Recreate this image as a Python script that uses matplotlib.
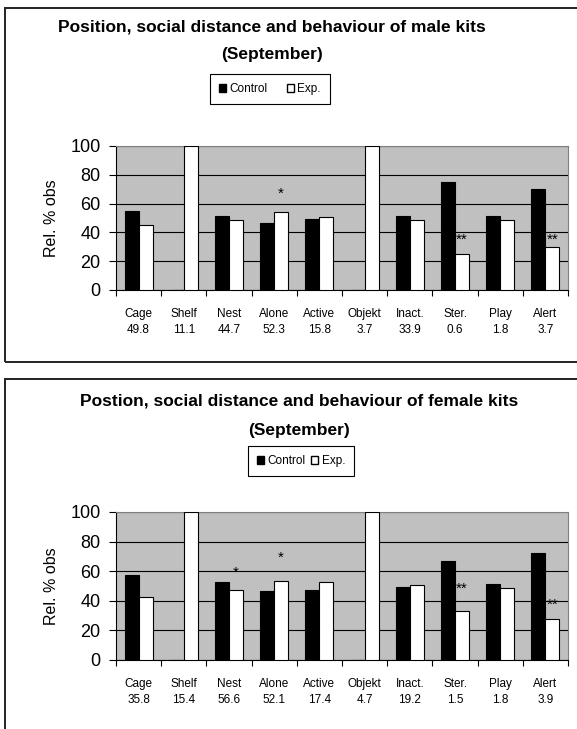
import matplotlib.pyplot as plt
from matplotlib.patches import Rectangle, Patch
import matplotlib.font_manager as fm
import numpy as np

W, H = 577, 729

categories = ['Cage', 'Shelf', 'Nest', 'Alone', 'Active', 'Objekt', 'Inact.', 'Ster.', 'Play', 'Alert']

# male kits
male_n = ['49.8', '11.1', '44.7', '52.3', '15.8', '3.7', '33.9', '0.6', '1.8', '3.7']
male_control = [55, 0, 51.5, 46.5, 49, 0, 51.5, 75, 51.5, 70]
male_exp = [45, 100, 48.5, 54, 51, 100, 48.5, 25, 48.5, 30]
male_marks = [(3, '*', 67), (7, '**', 35), (9, '**', 35)]

# female kits
female_n = ['35.8', '15.4', '56.6', '52.1', '17.4', '4.7', '19.2', '1.5', '1.8', '3.9']
female_control = [57.5, 0, 53, 46.5, 47.5, 0, 49, 67, 51.5, 72.5]
female_exp = [42.5, 100, 47.5, 53.5, 52.5, 100, 51, 33, 48.5, 28]
female_marks = [(2, '*', 59), (3, '*', 69), (7, '**', 48), (9, '**', 37)]

names = [f.name for f in fm.fontManager.ttflist]
narrow = 'Liberation Sans Narrow' if 'Liberation Sans Narrow' in names else 'Liberation Sans'
plt.rcParams['font.family'] = ['Liberation Sans', 'DejaVu Sans']


def fx(px):
    return px / W


def fy(py):
    return 1 - py / H


def panel(fig, top, bottom, control, exp, counts, marks):
    ax = fig.add_axes([fx(116), fy(bottom), fx(568) - fx(116), fy(top) - fy(bottom)])
    x = np.arange(len(categories))
    w = 0.31
    ax.bar(x - w / 2, control, w, color='black', edgecolor='black', linewidth=0.8, zorder=3)
    ax.bar(x + w / 2, exp, w, color='white', edgecolor='black', linewidth=0.8, zorder=3)
    for i, s, yv in marks:
        ax.text(i + w / 2, yv, s, ha='center', va='center', fontsize=11, zorder=4)
    ax.set_facecolor('#c0c0c0')
    ax.set_xlim(-0.5, len(categories) - 0.5)
    ax.set_ylim(0, 100)
    ax.set_yticks([0, 20, 40, 60, 80, 100])
    ax.yaxis.grid(True, color='black', linewidth=0.8, zorder=1)
    ax.set_axisbelow(True)
    ax.set_xticks(x)
    ax.set_xticklabels([c + '\n' + n for c, n in zip(categories, counts)],
                       fontsize=8.5, family=narrow, linespacing=1.45)
    ax.set_xticks(np.arange(len(categories) + 1) - 0.5, minor=True)
    ax.tick_params(axis='x', which='major', length=0, pad=13)
    ax.tick_params(axis='x', which='minor', length=4, width=0.8, direction='out')
    ax.tick_params(axis='y', labelsize=13, length=5, width=0.8, direction='out', pad=6)
    ax.set_ylabel('Rel. % obs', fontsize=11.5, labelpad=8)
    for side in ['top', 'right']:
        ax.spines[side].set_color('#808080')
    for side in ['left', 'bottom']:
        ax.spines[side].set_color('black')
    return ax


fig = plt.figure(figsize=(W / 100, H / 100), dpi=100)

# panel frames
fig.patches.append(Rectangle((fx(5), fy(362)), 2, (362 - 8) / H, transform=fig.transFigure,
                             fill=False, edgecolor='#222222', linewidth=1.4))
fig.patches.append(Rectangle((fx(5), -1), 2, 1 + fy(379), transform=fig.transFigure,
                             fill=False, edgecolor='#222222', linewidth=1.4))

handles = [Patch(facecolor='black', edgecolor='black'), Patch(facecolor='white', edgecolor='black')]

# top chart: male
panel(fig, 146, 290, male_control, male_exp, male_n, male_marks)
fig.text(fx(272), fy(27), 'Position, social distance and behaviour of male kits',
         ha='center', va='center', fontsize=12.5, fontweight='bold')
fig.text(fx(272), fy(55), '(September)', ha='center', va='center', fontsize=12.5, fontweight='bold')
leg = fig.legend(handles, ['Control', 'Exp.'], loc='center', bbox_to_anchor=(fx(270), fy(89)),
                 ncol=2, fontsize=8.5, handlelength=0.6, handleheight=0.6, handletextpad=0.3,
                 columnspacing=1.6, fancybox=False, framealpha=1, edgecolor='black', borderpad=0.75)
leg.get_frame().set_linewidth(0.8)

# bottom chart: female
panel(fig, 512, 660, female_control, female_exp, female_n, female_marks)
fig.text(fx(299), fy(401), 'Postion, social distance and behaviour of female kits',
         ha='center', va='center', fontsize=12.5, fontweight='bold')
fig.text(fx(299), fy(430), '(September)', ha='center', va='center', fontsize=12.5, fontweight='bold')
leg = fig.legend(handles, ['Control', 'Exp.'], loc='center', bbox_to_anchor=(fx(301), fy(461)),
                 ncol=2, fontsize=8.5, handlelength=0.6, handleheight=0.6, handletextpad=0.3,
                 columnspacing=0.5, fancybox=False, framealpha=1, edgecolor='black', borderpad=0.75)
leg.get_frame().set_linewidth(0.8)

fig.savefig('out.png', dpi=100)
